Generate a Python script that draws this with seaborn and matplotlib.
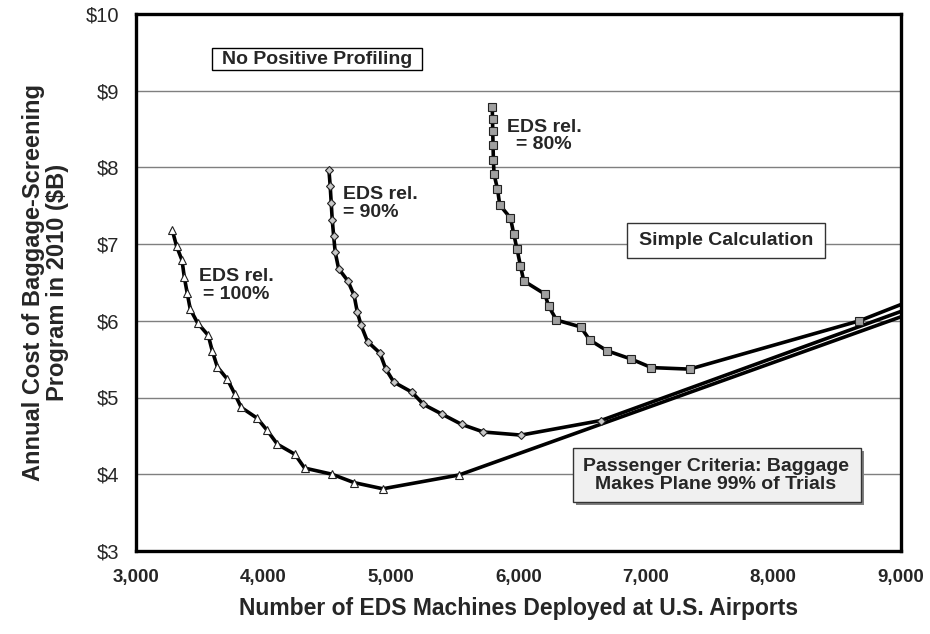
import matplotlib
matplotlib.use("Agg")
import matplotlib.pyplot as plt
from matplotlib.patches import Rectangle
import seaborn as sns
import pandas as pd

# ---- data ----
x100 = [3285, 3319, 3361, 3379, 3402, 3426, 3484, 3567, 3598, 3638, 3716, 3774, 3826,
        3951, 4030, 4110, 4247, 4323, 4537, 4712, 4937, 5536, 9000]
y100 = [7.18, 6.97, 6.79, 6.57, 6.36, 6.15, 5.97, 5.81, 5.61, 5.40, 5.24, 5.05, 4.87,
        4.73, 4.57, 4.39, 4.26, 4.08, 4.00, 3.89, 3.81, 3.99, 6.05]

x90 = [4514, 4524, 4532, 4540, 4551, 4563, 4590, 4663, 4712, 4736, 4767, 4817, 4914,
       4961, 5024, 5165, 5256, 5405, 5555, 5727, 6022, 6649, 9000]
y90 = [7.97, 7.76, 7.54, 7.32, 7.11, 6.90, 6.68, 6.52, 6.33, 6.12, 5.94, 5.73, 5.58,
       5.37, 5.20, 5.07, 4.91, 4.78, 4.65, 4.55, 4.51, 4.70, 6.12]

x80 = [5796, 5798, 5800, 5802, 5805, 5810, 5837, 5855, 5939, 5965, 5991, 6017, 6043,
       6208, 6239, 6300, 6490, 6561, 6696, 6888, 7045, 7345, 8678, 9000]
y80 = [8.79, 8.63, 8.48, 8.29, 8.10, 7.91, 7.72, 7.51, 7.34, 7.13, 6.93, 6.72, 6.52,
       6.35, 6.19, 6.01, 5.92, 5.75, 5.61, 5.50, 5.39, 5.37, 6.00, 6.21]

xticks = [3000, 4000, 5000, 6000, 7000, 8000, 9000]
xtick_labels = ["3,000", "4,000", "5,000", "6,000", "7,000", "8,000", "9,000"]
yticks = [3, 4, 5, 6, 7, 8, 9, 10]
ytick_labels = ["$3", "$4", "$5", "$6", "$7", "$8", "$9", "$10"]

sns.set_theme(style="white")
plt.rcParams["font.family"] = ["Liberation Sans", "DejaVu Sans"]

W, H = 930, 634
fig = plt.figure(figsize=(W / 100, H / 100), dpi=100)
AX_L, AX_R, AX_T, AX_B = 136, 900.5, 14, 550.9
ax = fig.add_axes([AX_L / W, 1 - AX_B / H, (AX_R - AX_L) / W, (AX_B - AX_T) / H])


def fx(px):
    return (px - AX_L) / (AX_R - AX_L)


def fy(py):
    return 1 - (py - AX_T) / (AX_B - AX_T)


for y in yticks[1:-1]:
    ax.axhline(y, color="#7f7f7f", lw=1.0, zorder=0.5)

series = [
    (x100, y100, "^", "white", 6.0),
    (x90, y90, "D", "#c8c8c8", 4.2),
    (x80, y80, "s", "#a0a0a0", 5.8),
]
for xs, ys, mk, fc, ms in series:
    df = pd.DataFrame({"x": xs, "y": ys})
    sns.lineplot(data=df, x="x", y="y", ax=ax, sort=False, estimator=None,
                 color="black", lw=2.6, marker=mk, markersize=ms,
                 markerfacecolor=fc, markeredgecolor="#222222", markeredgewidth=0.8,
                 markevery=list(range(len(xs) - 1)), zorder=3)

ax.set_xlim(3000, 9000)
ax.set_ylim(3, 10)
ax.set_xticks(xticks)
ax.set_xticklabels(xtick_labels, fontsize=13.5, fontweight="bold")
ax.set_yticks(yticks)
ax.set_yticklabels(ytick_labels, fontsize=14.5)
ax.tick_params(axis="x", direction="out", length=3, width=1, color="black", pad=10)
ax.tick_params(axis="y", direction="out", length=3, width=1, color="black", pad=9)

for s in ax.spines.values():
    s.set_visible(True)
    s.set_color("black")
    s.set_linewidth(2.4)

ax.set_xlabel("Number of EDS Machines Deployed at U.S. Airports",
              fontsize=16.5, fontweight="bold", labelpad=8)
ax.set_ylabel("Annual Cost of Baggage-Screening\nProgram in 2010 ($B)",
              fontsize=17, fontweight="bold", labelpad=12, linespacing=1.05)

# curve labels
ax.text(fx(236), fy(268), "EDS rel.\n= 100%", transform=ax.transAxes, fontsize=14,
        fontweight="bold", ha="center", va="top", multialignment="center", linespacing=1.05)
ax.text(fx(343), fy(186), "EDS rel.\n= 90%", transform=ax.transAxes, fontsize=14,
        fontweight="bold", ha="left", va="top", multialignment="left", linespacing=1.05)
ax.text(fx(544), fy(119), "EDS rel.\n= 80%", transform=ax.transAxes, fontsize=14,
        fontweight="bold", ha="center", va="top", multialignment="center", linespacing=1.0)


def box(x0, y0, x1, y1, fc, ec, z, shadow=False):
    if shadow:
        ax.add_patch(Rectangle((fx(x0 + 3), fy(y1 + 3)), fx(x1) - fx(x0), fy(y0) - fy(y1),
                               transform=ax.transAxes, fc="#808080", ec="none", zorder=z - 0.1))
    ax.add_patch(Rectangle((fx(x0), fy(y1)), fx(x1) - fx(x0), fy(y0) - fy(y1),
                           transform=ax.transAxes, fc=fc, ec=ec, lw=1.0, zorder=z))


box(212, 48, 422, 70, "white", "black", 5)
ax.text(fx(317), fy(59.5), "No Positive Profiling", transform=ax.transAxes, fontsize=14,
        fontweight="bold", ha="center", va="center", zorder=6)

box(627, 223, 825, 258, "white", "#333333", 5)
ax.text(fx(726), fy(241), "Simple Calculation", transform=ax.transAxes, fontsize=14,
        fontweight="bold", ha="center", va="center", zorder=6)

box(573, 448, 861, 502, "#f0f0f0", "#333333", 5, shadow=True)
ax.text(fx(716), fy(475.5), "Passenger Criteria: Baggage\nMakes Plane 99% of Trials",
        transform=ax.transAxes, fontsize=14, fontweight="bold", ha="center", va="center",
        multialignment="center", linespacing=1.05, zorder=6)

fig.savefig("out.png", dpi=100, facecolor="white")
